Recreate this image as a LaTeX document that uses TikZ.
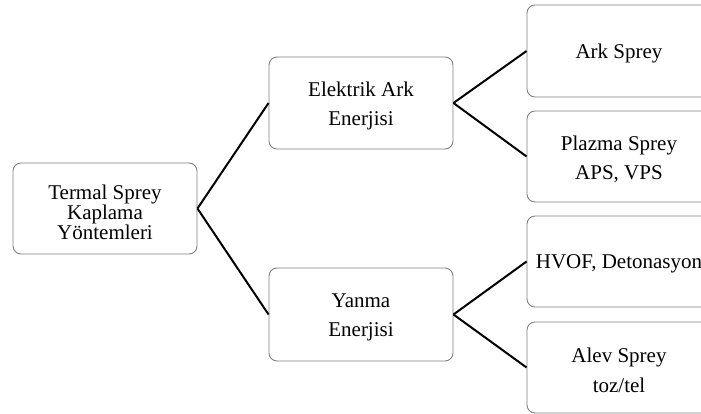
\documentclass[tikz,border=0pt]{standalone}
\usepackage{fontspec}
\setmainfont{Liberation Serif}
\definecolor{boxgray}{RGB}{128,128,128}
\begin{document}
\begin{tikzpicture}[x=1pt,y=-1pt,
  box/.style={draw=boxgray, line width=0.9pt, rounded corners=8pt,
    minimum width=184pt, minimum height=92pt, inner sep=0pt},
  txt/.style={align=center, inner sep=0pt, font=\fontsize{21}{29.5}\selectfont},
  link/.style={line width=2pt, draw=black}]
\useasboundingbox (0,0) rectangle (701,414);
\clip (0,0) rectangle (701,414);
\node[box, minimum height=91pt] (root) at (105,208.5) {};
\node[box] (elek) at (361,103) {};
\node[box, minimum height=93pt] (yanma) at (361,314.5) {};
\node[box] (ark) at (619,51) {};
\node[box, minimum height=91pt] (plazma) at (619,156.5) {};
\node[box, minimum height=91pt] (hvof) at (619,261.5) {};
\node[box, minimum height=91pt] (alev) at (619,367.5) {};
\node[txt, font=\fontsize{21}{20}\selectfont] (rootT) at ([yshift=-3.5pt]root.center) {Termal Sprey\\Kaplama\\Yöntemleri};
\node[txt] (elekT) at ([yshift=-3pt]elek.center) {Elektrik Ark\\Enerjisi};
\node[txt] (yanmaT) at ([yshift=-3pt]yanma.center) {Yanma\\Enerjisi};
\node[txt] (arkT) at ([yshift=-2pt]ark.center) {Ark Sprey};
\node[txt] (plazmaT) at ([yshift=-3pt]plazma.center) {Plazma Sprey\\APS, VPS};
\node[txt] (hvofT) at ([yshift=-2pt]hvof.center) {HVOF, Detonasyon};
\node[txt] (alevT) at ([yshift=-3pt]alev.center) {Alev Sprey\\toz/tel};
\draw[link] (root.east) -- (elek.west);
\draw[link] (root.east) -- (yanma.west);
\draw[link] (elek.east) -- (ark.west);
\draw[link] (elek.east) -- (plazma.west);
\draw[link] (yanma.east) -- (hvof.west);
\draw[link] (yanma.east) -- (alev.west);
\end{tikzpicture}
\end{document}
